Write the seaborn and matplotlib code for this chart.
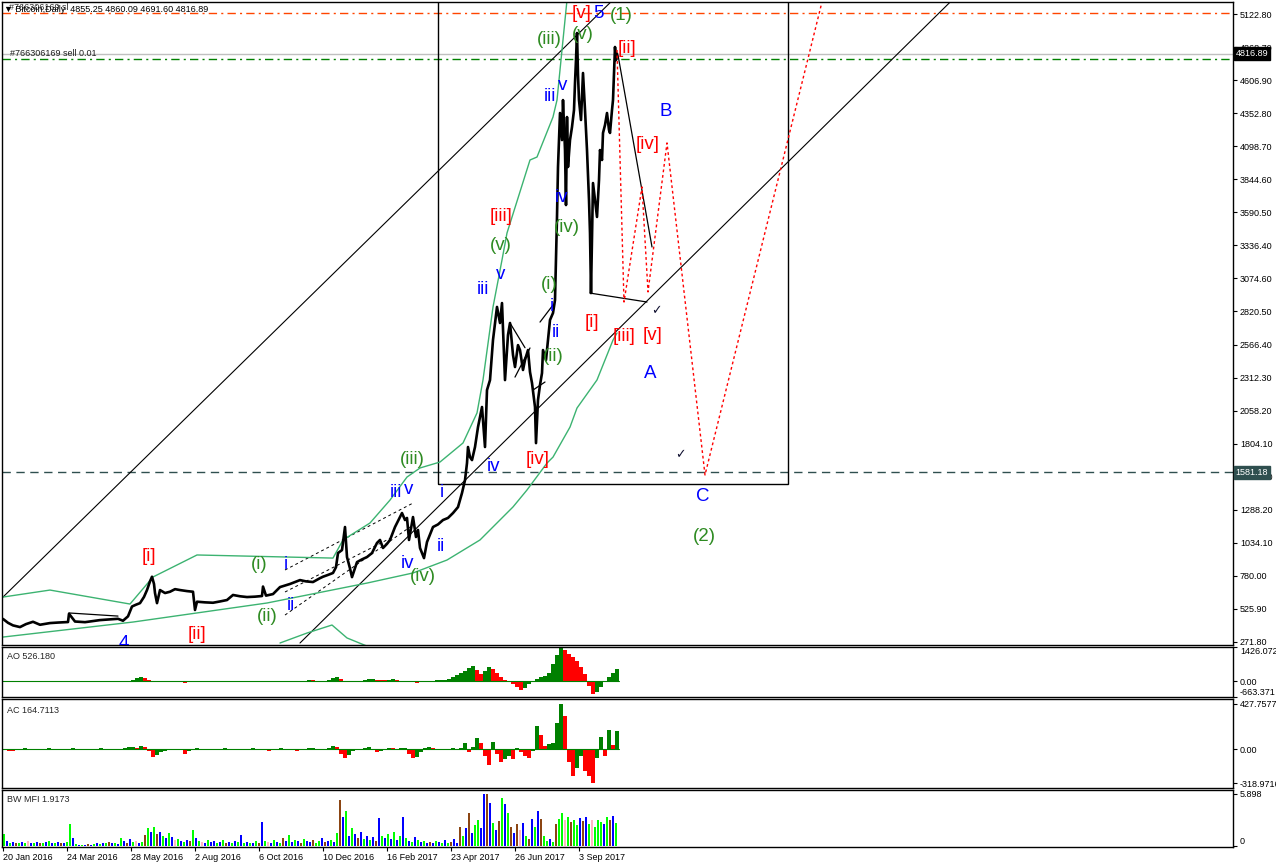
import numpy as np
import matplotlib
matplotlib.use("Agg")
import matplotlib.pyplot as plt
import matplotlib.transforms as mtrans
from matplotlib.patches import Rectangle
import seaborn as sns

# ---- data (x = bar position, y = price) ----
price_bar = [
    3, 8, 13, 20, 26, 33, 40, 50, 58, 68,
    69, 75, 85, 100, 110, 118, 123, 128, 132, 136,
    140, 144, 147, 150, 152, 154, 155, 157, 160, 165,
    170, 175, 180, 187, 193, 195, 197, 205, 213, 220,
    227, 233, 240, 247, 255, 262, 263, 266, 273, 280,
    290, 300, 306, 313, 320, 323, 328, 333, 336, 338,
    342, 345, 347, 350, 352, 357, 362, 367, 372, 377,
    380, 383, 387, 390, 395, 402, 405, 407, 409, 413,
    416, 418, 420, 424, 427, 433, 438, 443, 448, 453,
    458, 462, 465, 467, 468, 470, 472, 475, 478, 482,
    485, 487, 490, 493, 497, 500, 502, 505, 508, 510,
    513, 515, 518, 520, 523, 525, 528, 530, 532, 535,
    536, 538, 540, 542, 543, 546, 548, 550, 553, 555,
    556, 557, 558, 560, 562, 563, 565, 566, 567, 568,
    570, 572, 574, 575, 576, 577, 578, 579, 581, 583,
    585, 587, 589, 590, 591, 592, 593, 595, 597, 599,
    600, 602, 603, 605, 607, 609, 610, 612, 613, 615,
    616, 617]
price_close = [
    450, 420, 400, 387, 410, 428, 405, 418, 422, 426,
    490, 430, 425, 441, 447, 451, 436, 470, 546, 560,
    572, 620, 673, 740, 776, 720, 650, 572, 673, 650,
    660, 680, 673, 665, 660, 519, 583, 578, 575, 585,
    596, 635, 625, 619, 622, 627, 700, 630, 642, 696,
    720, 750, 740, 735, 765, 776, 790, 805, 850, 959,
    982, 1160, 928, 840, 773, 889, 910, 928, 959, 1037,
    1060, 998, 1030, 1060, 1160, 1268, 1214, 1230, 1060, 1237,
    1083, 1137, 998, 920, 1044, 1160, 1180, 1214, 1230, 1268,
    1314, 1423, 1522, 1654, 1778, 1700, 1677, 1778, 1932, 2087,
    1778, 2218, 2295, 2605, 2860, 2736, 2890, 2295, 2643, 2736,
    2489, 2396, 2565, 2527, 2373, 2450, 2527, 2357, 2272, 2087,
    1808, 2141, 2257, 2349, 2527, 2450, 2605, 2759, 2813, 2913,
    3222, 3555, 3941, 4358, 4149, 4458, 4072, 3647, 4327, 3941,
    4149, 4250, 4381, 4590, 4767, 4976, 4652, 4458, 4304, 4667,
    4381, 4072, 3686, 3431, 2967, 3377, 3817, 3686, 3555, 3840,
    4072, 3995, 4204, 4265, 4358, 4227, 4204, 4381, 4458, 4868,
    4767, 4817]

# envelope curves (green)
upper_bar = [3, 50, 130, 153, 197, 333, 343, 370, 390, 407, 420, 440, 463,
             477, 483, 493, 502, 507, 530, 537, 553, 557, 562, 567]
upper_val = [619, 673, 565, 774, 944, 920, 1060, 1191, 1368, 1546, 1616, 1662, 1809,
             2041, 2296, 2859, 3223, 3431, 3995, 4018, 4327, 4458, 4845, 5231]
lower_bar = [3, 133, 267, 367, 413, 447, 480, 513, 527, 547, 553, 570, 577, 597, 613, 617]
lower_val = [310, 426, 573, 727, 805, 905, 1060, 1315, 1446, 1654, 1700, 1932, 2079,
             2296, 2604, 2659]
bump_bar = [280, 307, 332, 347, 367]
bump_val = [264, 341, 403, 303, 240]

# red dotted projection
proj_bar = [617, 624, 642, 648, 667, 705, 825]
proj_val = [4845, 2898, 3787, 2976, 4127, 1562, 5310]

# indicators, one value every 4 bars (AO, AC) / 3 bars (BW MFI)
ao = [-40, -45, -40, -20, -5, 5, 10, 5, 0, -5,
      0, 5, 10, 5, 0, -5, -5, 0, 5, 10,
      10, 5, 0, -5, 0, 5, 15, 20, 15, 10,
      5, 20, 60, 110, 150, 130, 60, -10, -25, -20,
      -15, -10, -5, -15, -60, -90, -50, -20, -5, 0,
      5, 10, 5, 0, -5, 0, 5, 10, 15, 10,
      5, 0, 10, 20, 15, 5, 0, 5, 10, 15,
      20, 15, 10, 5, 10, 20, 30, 25, 20, 15,
      20, 60, 130, 150, 90, -20, -60, -50, -20, 10,
      40, 70, 80, 60, 50, 40, 60, 70, 50, 20,
      10, -20, -60, -70, -50, -30, -10, 10, 30, 40,
      60, 90, 150, 250, 330, 420, 540, 620, 480, 300,
      420, 580, 520, 320, 170, 60, -40, -120, -250, -360,
      -300, -120, 20, 100, 160, 220, 350, 700, 1100, 1380,
      1290, 1150, 1000, 860, 600, 300, -200, -560, -450, -250,
      0, 180, 350, 520]
ac = [-10, -15, -20, -10, 5, 10, 5, -5, -10, -5,
      5, 10, 5, -5, -10, -5, 5, 10, 5, 0,
      -5, -10, -5, 5, 10, 5, 0, -10, -5, 5,
      10, 20, 25, 10, 30, 25, -20, -70, -50, -30,
      -20, -10, -5, 5, -10, -40, -20, 5, 10, 5,
      0, -5, -10, -5, 5, 10, 5, 0, -5, -10,
      -5, 5, 10, 5, 0, -10, -15, -5, 5, 10,
      5, 0, -10, -15, -5, 5, 10, 10, 5, 0,
      -5, 10, 30, 25, -40, -80, -50, -20, -10, 5,
      10, 20, 5, -30, -15, 5, 15, 10, 5, 10,
      15, -40, -80, -70, -30, 10, 20, 15, 5, 0,
      0, 5, 10, 5, 10, 60, -30, 20, 110, 60,
      -60, -150, 70, -40, -120, -90, -60, -90, 10, -30,
      -60, -80, -20, 220, 130, 30, 50, 60, 250, 430,
      310, -120, -250, -180, -60, -200, -250, -320, -80, 120,
      -60, 180, 40, 170]
mfi = [1.4, 0.6, 0.4, 0.5, 0.3, 0.4, 0.5, 0.4, 0.6, 0.3,
       0.4, 0.5, 0.3, 0.4, 0.5, 0.6, 0.3, 0.4, 0.5, 0.4,
       0.3, 0.5, 2.45, 0.9, 0.2, 0.1, 0.1, 0.1, 0.2, 0.1,
       0.2, 0.3, 0.2, 0.4, 0.3, 0.5, 0.4, 0.3, 0.2, 0.9,
       0.6, 0.4, 0.8, 0.5, 0.6, 0.3, 0.5, 1.3, 2.0, 1.6,
       2.2, 1.4, 1.6, 1.2, 0.9, 1.5, 1.0, 0.7, 0.8, 0.6,
       0.5, 0.7, 0.6, 1.85, 0.9, 0.6, 0.5, 0.4, 0.7, 0.5,
       0.6, 0.4, 0.5, 0.7, 0.3, 0.5, 0.4, 0.6, 0.5, 1.3,
       0.4, 0.5, 0.3, 0.4, 0.6, 0.3, 2.7, 0.6, 0.5, 0.4,
       0.7, 0.5, 0.4, 0.9, 0.6, 1.3, 0.5, 0.7, 0.6, 0.4,
       0.8, 0.6, 0.5, 0.7, 0.4, 0.6, 0.9, 0.5, 0.6, 0.7,
       0.5, 1.5, 5.2, 3.3, 4.0, 1.2, 2.1, 1.4, 0.9, 1.6,
       0.8, 1.2, 0.7, 1.0, 0.6, 3.2, 1.1, 0.9, 1.4, 0.8,
       1.6, 0.7, 1.2, 3.3, 0.9, 0.6, 0.5, 1.0, 0.7, 0.5,
       0.6, 0.4, 0.5, 0.3, 0.6, 0.5, 0.4, 0.7, 0.3, 0.5,
       0.8, 0.4, 2.2, 1.2, 2.0, 3.7, 1.5, 2.4, 3.0, 2.1,
       5.9, 5.9, 4.9, 2.6, 1.8, 2.8, 5.4, 4.8, 3.7, 2.2,
       1.5, 2.5, 1.8, 2.6, 1.2, 0.8, 3.1, 2.2, 4.0, 3.1,
       1.1, 0.6, 0.8, 0.5, 2.5, 3.1, 3.7, 2.9, 3.3, 2.7,
       3.0, 2.4, 3.2, 2.8, 3.3, 2.5, 2.9, 2.2, 3.0, 2.7,
       2.5, 3.3, 2.9, 3.4, 2.6]
mfi_kind = ("gbgbngbgpb" "gbngbgbgbn" "bggbgbgbnb" "gbgbgnbgbg" "bnbgpbgngb"
            "gnbgbgbpgb" "gbngbgpbgb" "bgbgnbgbgb" "gbgbgnbgpb" "gbgnbgbgbn"
            "gbbnggbnbg" "bgnbgbgbnb" "gbgbnbgbgb" "gbgbgbgbgb" "gbnbgbgbgn"
            "bbngbnbggb" "bnbgbngbgn" "bnpbgnbgbn" "ggbgnggpgn" "ggbnbgpggg"
            "bgnbgbbgnb")

price_ticks = ["5122.80", "4868.70", "4606.90", "4352.80", "4098.70", "3844.60",
               "3590.50", "3336.40", "3074.60", "2820.50", "2566.40", "2312.30",
               "2058.20", "1804.10", "1542.30", "1288.20", "1034.10", "780.00",
               "525.90", "271.80"]
date_labels = ["20 Jan 2016", "24 Mar 2016", "28 May 2016", "2 Aug 2016", "6 Oct 2016",
               "10 Dec 2016", "16 Feb 2017", "23 Apr 2017", "26 Jun 2017", "3 Sep 2017"]

# wave count labels: text, bar, price, colour
BL, RD, GR = "#0000FF", "#FF0000", "#2E8B22"
wave_labels = [
    ("[v]", 582, 5123, RD), ("5", 598, 5123, BL), ("(1)", 621, 5115, GR),
    ("(iii)", 549, 4922, GR), ("(v)", 583, 4961, GR), ("[ii]", 627, 4860, RD),
    ("iii", 550, 4482, BL), ("v", 563, 4574, BL), ("B", 666, 4366, BL),
    ("[iv]", 648, 4111, RD), ("[iii]", 501, 3562, RD), ("iv", 562, 3709, BL),
    ("(iv)", 567, 3470, GR), ("(v)", 501, 3338, GR), ("v", 501, 3114, BL),
    ("iii", 483, 2991, BL), ("(i)", 549, 3037, GR), ("i", 552, 2867, BL),
    ("ii", 556, 2666, BL), ("(ii)", 553, 2481, GR), ("[i]", 592, 2736, RD),
    ("[iii]", 624, 2628, RD), ("[v]", 653, 2636, RD), ("A", 650, 2342, BL),
    ("[iv]", 538, 1685, RD), ("iv", 494, 1631, BL), ("C", 703, 1392, BL),
    ("(2)", 704, 1083, GR), ("(iii)", 412, 1685, GR), ("iii", 396, 1423, BL),
    ("v", 409, 1446, BL), ("i", 442, 1423, BL), ("ii", 441, 1013, BL),
    ("iv", 408, 882, BL), ("(iv)", 423, 774, GR), ("[i]", 149, 936, RD),
    ("(i)", 259, 867, GR), ("i", 286, 867, BL), ("ii", 291, 557, BL),
    ("(ii)", 267, 472, GR), ("[ii]", 197, 333, RD), ("4", 124, 264, BL),
]

sns.set_theme(style="white")
plt.rcParams["font.family"] = ["Liberation Sans", "DejaVu Sans"]

W, H = 1276, 868
fig = plt.figure(figsize=(W / 100, H / 100), dpi=100)


def box(x0, y0, x1, y1):
    return [x0 / W, 1 - y1 / H, (x1 - x0) / W, (y1 - y0) / H]


ax = fig.add_axes(box(2, 2, 1233, 645))
ao_ax = fig.add_axes(box(2, 647, 1233, 697))
ac_ax = fig.add_axes(box(2, 699, 1233, 788))
mfi_ax = fig.add_axes(box(2, 790, 1233, 847))

for a in (ax, ao_ax, ac_ax, mfi_ax):
    a.set_xlim(2, 1233)
    a.set_facecolor("white")
    for s in a.spines.values():
        s.set_color("black")
        s.set_linewidth(1)
    a.yaxis.tick_right()
    a.tick_params(axis="y", right=True, left=False, direction="out", length=3,
                  width=0.8, pad=2, labelsize=6.5, colors="black")
    a.tick_params(axis="x", bottom=False, labelbottom=False)
    a.set_xlabel("")
    a.set_ylabel("")

# ---- main price panel ----
ax.set_ylim(248.6, 5215.5)
ax.set_yticks(np.linspace(5122.8, 271.8, len(price_ticks)))
ax.set_yticklabels(price_ticks)

ax.axhline(5130, color="#FF4500", lw=1, ls=(0, (6, 3, 1.5, 3)), zorder=1)
ax.axhline(4816.89, color="#C0C0C0", lw=1, zorder=1)
ax.axhline(4775, color="#008000", lw=1, ls=(0, (6, 3, 1.5, 3)), zorder=1)
ax.axhline(1581.18, color="#2F4F4F", lw=1, ls=(0, (6, 4)), zorder=1)

ax.add_patch(Rectangle((438, 1492), 350, 4000, fill=False, ec="black", lw=1, zorder=2))

# channel lines
ax.plot([3, 620], [619, 5285], color="black", lw=0.8)
ax.plot([300, 960], [264, 5290], color="black", lw=0.8)
for xs, ys in [([285, 413], [828, 1345]), ([285, 392], [658, 1080]), ([285, 410], [480, 1160])]:
    ax.plot(xs, ys, color="black", lw=0.7, ls=(0, (3, 3)))
for xs, ys in [([69, 118], [496, 472]), ([510, 525], [2736, 2545]), ([515, 530], [2318, 2543]),
               ([533, 545], [2218, 2280]), ([540, 553], [2743, 2875]),
               ([590, 647], [2967, 2898]), ([618, 652], [4806, 3323])]:
    ax.plot(xs, ys, color="black", lw=0.9)

sns.lineplot(x=upper_bar, y=upper_val, ax=ax, color="#3CB371", lw=1, sort=False, estimator=None)
sns.lineplot(x=lower_bar, y=lower_val, ax=ax, color="#3CB371", lw=1, sort=False, estimator=None)
sns.lineplot(x=bump_bar, y=bump_val, ax=ax, color="#3CB371", lw=1, sort=False, estimator=None)
sns.lineplot(x=price_bar, y=price_close, ax=ax, color="black", lw=1.9, sort=False, estimator=None)
ax.plot(proj_bar, proj_val, color="red", lw=1, ls=(0, (2, 2)))

for txt, x, y, c in wave_labels:
    ax.text(x, y, txt, color=c, fontsize=13.5, ha="center", va="center", clip_on=True)
for x, y in [(656, 2829), (680, 1716)]:
    ax.text(x, y, "\u2713", color="#101030", fontsize=9, ha="center", va="center",
            family=["DejaVu Sans"])

ax.set_xlabel("")
ax.set_ylabel("")
ax.tick_params(axis="x", bottom=False, labelbottom=False)

bt = mtrans.blended_transform_factory(ax.transAxes, ax.transData)
ax.text(1.002, 4816.89, "4816.89", transform=bt, color="white", fontsize=6.5, va="center",
        ha="left", clip_on=False, zorder=5,
        bbox=dict(boxstyle="square,pad=0.2", fc="black", ec="black"))
ax.text(1.002, 1581.18, "1581.18", transform=bt, color="white", fontsize=6.5, va="center",
        ha="left", clip_on=False, zorder=5,
        bbox=dict(boxstyle="square,pad=0.2", fc="#2F4F4F", ec="#2F4F4F"))
ax.text(10, 4816.89, "#766306169 sell 0.01", color="#202020", fontsize=6.5, va="center")
fig.text(9 / W, 1 - 7 / H, "#766306169 sl", color="#303030", fontsize=6.5, va="center")
fig.text(4 / W, 1 - 10 / H, "\u25BC Bitcoin,Daily  4855.25 4860.09 4691.60 4816.89",
         color="black", fontsize=6.5, va="center")

# ---- AO ----
ao_x = 3 + 4 * np.arange(len(ao))
ao_col = ["#008000" if i == 0 or ao[i] >= ao[i - 1] else "#FF0000" for i in range(len(ao))]
ao_ax.axhline(0, color="#008000", lw=0.8, xmax=(619 - 2) / 1231)
ao_ax.bar(ao_x, ao, width=4, align="edge", color=ao_col, lw=0)
ao_ax.set_ylim(-669, 1421)
ao_ax.set_yticks([1426.072, 0, -663.371])
ao_ax.set_yticklabels(["1426.072", "0.00", "-663.371"])
ao_ax.get_yticklabels()[0].set_va("top")
ao_ax.get_yticklabels()[2].set_va("bottom")
ao_ax.text(0.004, 0.9, "AO 526.180", transform=ao_ax.transAxes, va="top", fontsize=6.5)

# ---- AC ----
ac_x = 3 + 4 * np.arange(len(ac))
ac_col = ["#008000" if i == 0 or ac[i] >= ac[i - 1] else "#FF0000" for i in range(len(ac))]
ac_ax.axhline(0, color="#008000", lw=0.8, xmax=(619 - 2) / 1231)
ac_ax.bar(ac_x, ac, width=4, align="edge", color=ac_col, lw=0)
ac_ax.set_ylim(-364, 473)
ac_ax.set_yticks([427.7577, 0, -318.9716])
ac_ax.set_yticklabels(["427.7577", "0.00", "-318.9716"])
ac_ax.text(0.004, 0.92, "AC 164.7113", transform=ac_ax.transAxes, va="top", fontsize=6.5)

# ---- BW MFI ----
palette = {"g": "#00FF00", "b": "#0000FF", "n": "#8B4513", "p": "#FFB6C1"}
mfi_x = 3 + 3 * np.arange(len(mfi))
mfi_ax.bar(mfi_x, mfi, width=1.7, align="edge",
           color=[palette[k] for k in mfi_kind[:len(mfi)]], lw=0)
mfi_ax.set_ylim(-0.1, 6.35)
mfi_ax.set_yticks([5.898, 0])
mfi_ax.set_yticklabels(["5.898", "0"])
mfi_ax.get_yticklabels()[1].set_va("bottom")
mfi_ax.text(0.004, 0.91, "BW MFI 1.9173", transform=mfi_ax.transAxes, va="top", fontsize=6.5)

mfi_ax.set_xticks(3 + 64 * np.arange(len(date_labels)))
mfi_ax.set_xticklabels(date_labels, ha="left")
mfi_ax.tick_params(axis="x", bottom=True, labelbottom=True, direction="out", length=3,
                   width=0.8, pad=1, labelsize=6.5, colors="black")

fig.savefig("out.png", dpi=100, facecolor="white")
